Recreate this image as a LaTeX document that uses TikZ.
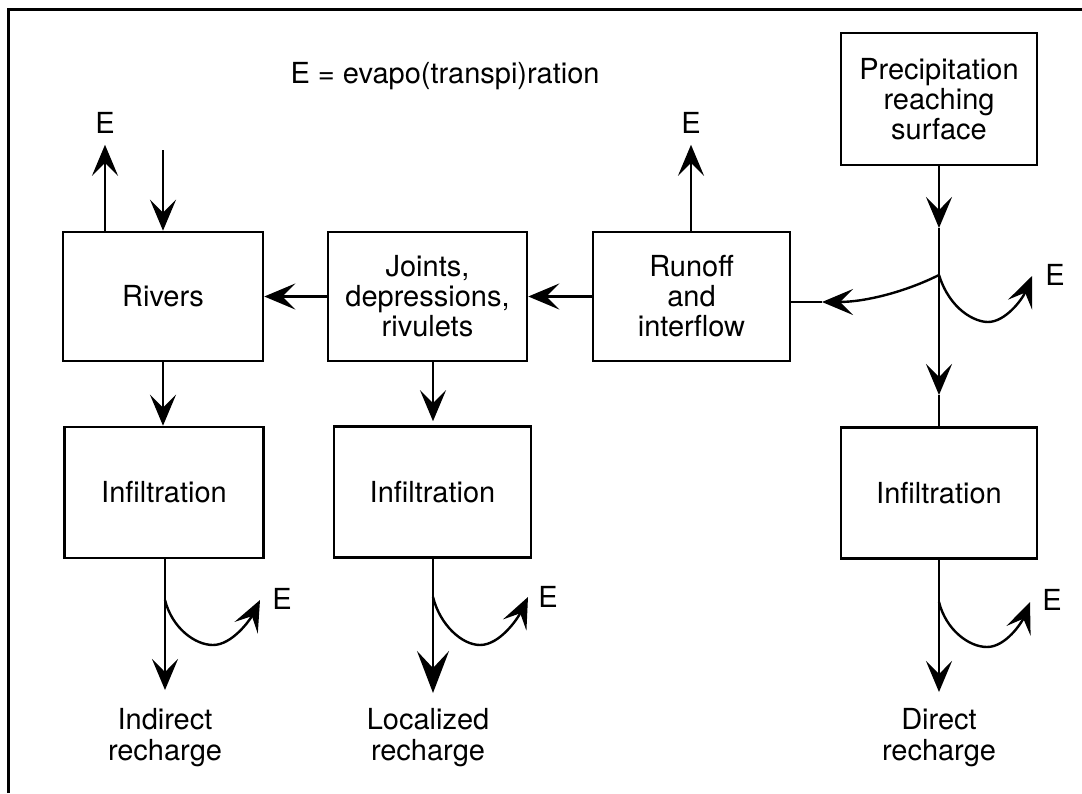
\documentclass[tikz,border=0pt]{standalone}
\usepackage{fontspec}
\setmainfont{TeX Gyre Heros}
\usetikzlibrary{arrows.meta,calc}

\tikzset{
  flowbox/.style={draw, line width=2.6pt, minimum width=#1, inner sep=0pt,
                  align=center, font=\fontsize{29}{30}\selectfont},
  flowbox/.default=199pt,
  lbl/.style={align=center, inner sep=0pt, font=\fontsize{29}{31}\selectfont},
  vtip/.tip={Stealth[length=31pt,width=26pt,inset=13pt]},
  bigtip/.tip={Stealth[length=42pt,width=32pt,inset=17pt]},
  flow/.style={line width=2.4pt, -vtip},
  bigflow/.style={line width=2.8pt, -bigtip},
  plain/.style={line width=2.4pt},
}

\begin{document}
\begin{tikzpicture}[x=1pt,y=-1pt]
\useasboundingbox (0,0) rectangle (1082,793);

% frame (top and left edges only)
\draw[line width=3pt] (8.7,793) -- (8.7,9.7) -- (1082,9.7);

% legend
\node[lbl] (legend) at (445,76) {E = evapo(transpi)ration};

% boxes
\node[flowbox=200pt, minimum height=129pt] (rivers) at (163,296.5) {Rivers};
\node[flowbox=199pt, minimum height=129pt] (joints) at (427.5,296.5) {Joints,\\depressions,\\rivulets};
\node[flowbox=197pt, minimum height=129pt] (runoff) at (691.5,296.5) {Runoff\\and\\interflow};
\node[flowbox=196pt, minimum height=132pt] (precip) at (939,99) {Precipitation\\reaching\\surface};
\node[flowbox=199pt, minimum height=131pt] (infl) at (164,492.5) {Infiltration};
\node[flowbox=197pt, minimum height=131pt] (infm) at (432.5,492) {Infiltration};
\node[flowbox=196pt, minimum height=131pt] (infr) at (939,493) {Infiltration};

% recharge labels
\node[lbl] (rchl) at (165,738) {Indirect\\recharge};
\node[lbl] (rchm) at (428,738) {Localized\\recharge};
\node[lbl] (rchr) at (939,738) {Direct\\recharge};

% evaporation labels
\node[lbl] (el)  at (105,123) {E};
\node[lbl] (ero) at (691,123) {E};
\node[lbl] (epr) at (1055,275) {E};
\node[lbl] (ebl) at (282,599) {E};
\node[lbl] (ebm) at (548,597) {E};
\node[lbl] (ebr) at (1052,600) {E};

% coordinates along the flow lines
\coordinate (riverin) at (163,150);
\coordinate (branch) at (939,275);
\coordinate (ptip1) at (939,228);
\coordinate (ptip2) at (939,395);
\coordinate (rtip) at (822,302);
\coordinate (etop) at (1032,276);
\coordinate (bl) at (165,600);
\coordinate (bm) at (433,597);
\coordinate (br) at (939,602);
\coordinate (dl) at (165,690);
\coordinate (dm) at (433,693);
\coordinate (dr) at (939,692);

% top of Rivers
\draw[flow] (rivers.north -| el) -- ($(el.south)+(0,11)$);
\draw[flow] (riverin) -- (rivers.north -| riverin);
% top of Runoff
\draw[flow] (runoff.north -| ero) -- ($(ero.south)+(0,11)$);

% horizontal flow to the left
\draw[flow] (joints.west) -- (rivers.east);
\draw[flow] (runoff.west) -- (joints.east);

% precipitation split
\draw[flow] (precip.south) -- (ptip1);
\draw[plain] (ptip1) -- (branch);
\draw[flow] (branch) -- (ptip2);
\draw[plain] (ptip2) -- (infr.north);
\draw[flow] (branch) .. controls (905,292) and (865,302) .. (rtip);
\draw[plain] (rtip) -- (rtip -| runoff.east);
\draw[flow] (branch) .. controls (950,310) and (975,322) .. (988,322)
               .. controls (1005,322) and (1022,300) .. (etop);

% downward flows into infiltration
\draw[flow] (rivers.south) -- (infl.north -| rivers.south);
\draw[flow] (joints.south -| bm) -- ($(infm.north -| bm)+(0,-4)$);

% below infiltration
\draw[plain] (infl.south -| bl) -- (bl);
\draw[flow] (bl) -- (dl);
\draw[flow] (bl) .. controls (172,628) and (195,645) .. (213,645)
               .. controls (232,645) and (250,620) .. (260,600);

\draw[plain] (infm.south -| bm) -- (bm);
\draw[bigflow] (bm) -- (dm);
\draw[flow] (bm) .. controls (440,625) and (462,645) .. (480,645)
               .. controls (500,645) and (518,618) .. (528,597);

\draw[plain] (infr.south -| br) -- (br);
\draw[flow] (br) -- (dr);
\draw[flow] (br) .. controls (946,630) and (969,647) .. (987,647)
               .. controls (1006,647) and (1022,622) .. (1030,602);
\end{tikzpicture}
\end{document}
